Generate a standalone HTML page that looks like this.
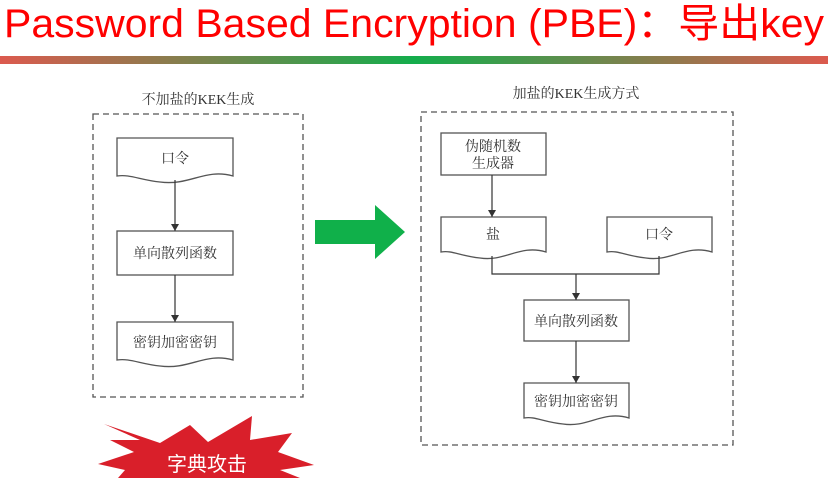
<!DOCTYPE html>
<html><head><meta charset="utf-8"><style>
html,body{margin:0;padding:0;background:#fff;width:828px;height:478px;overflow:hidden}
svg{display:block}
.t{font-family:"Liberation Serif","Noto Serif CJK SC",serif;font-size:14px;fill:#333;text-anchor:middle}
</style></head><body>
<svg width="828" height="478" viewBox="0 0 828 478">
<defs>
<linearGradient id="g" x1="0" x2="1">
<stop offset="0" stop-color="#dc5a4e"/><stop offset="0.5" stop-color="#14ad4c"/><stop offset="1" stop-color="#dc5a4e"/>
</linearGradient>
<marker id="a" markerWidth="8" markerHeight="8" refX="7" refY="4" orient="auto" markerUnits="userSpaceOnUse">
<path d="M0,0 L7,4 L0,8 Z" fill="#333"/>
</marker>
</defs>
<text x="4" y="37" font-family="Liberation Sans,'Noto Sans CJK SC',sans-serif" font-size="40" fill="#f00" textLength="820" lengthAdjust="spacingAndGlyphs">Password Based Encryption (PBE)：导出key</text>
<rect x="0" y="56" width="828" height="8" fill="url(#g)"/>
<text class="t" x="198" y="104" font-size="15">不加盐的KEK生成</text>
<text class="t" x="576" y="98" font-size="15">加盐的KEK生成方式</text>
<g fill="none" stroke="#555" stroke-width="1.3" stroke-dasharray="6,4">
<rect x="93" y="114" width="210" height="283"/>
<rect x="421" y="112" width="312" height="333"/>
</g>
<g fill="#fff" stroke="#555" stroke-width="1.3">
<path d="M117,138 H233 V176 C205,168 190,186 160,182 C140,180 130,174 117,176 Z"/>
<rect x="117" y="231" width="116" height="44"/>
<path d="M117,322 H233 V360 C205,352 190,370 160,366 C140,364 130,358 117,360 Z"/>
<rect x="441" y="133" width="105" height="42"/>
<path d="M441,217 H546 V252 C520,244 505,262 480,258 C460,256 452,250 441,252 Z"/>
<path d="M607,217 H712 V252 C686,244 671,262 646,258 C626,256 618,250 607,252 Z"/>
<rect x="524" y="300" width="105" height="41"/>
<path d="M524,383 H629 V418 C603,410 588,428 563,424 C543,422 535,416 524,418 Z"/>
</g>
<g stroke="#333" stroke-width="1.2" fill="none">
<line x1="175" y1="180" x2="175" y2="231" marker-end="url(#a)"/>
<line x1="175" y1="275" x2="175" y2="322" marker-end="url(#a)"/>
<line x1="492" y1="175" x2="492" y2="217" marker-end="url(#a)"/>
<polyline points="492,256 492,274 659,274 659,256"/>
<line x1="576" y1="274" x2="576" y2="300" marker-end="url(#a)"/>
<line x1="576" y1="341" x2="576" y2="383" marker-end="url(#a)"/>
</g>
<text class="t" x="175" y="163">口令</text>
<text class="t" x="175" y="258">单向散列函数</text>
<text class="t" x="175" y="347">密钥加密密钥</text>
<text class="t" x="493" y="151">伪随机数</text>
<text class="t" x="493" y="168">生成器</text>
<text class="t" x="493" y="239">盐</text>
<text class="t" x="659" y="239">口令</text>
<text class="t" x="576" y="326">单向散列函数</text>
<text class="t" x="576" y="406">密钥加密密钥</text>
<polygon points="315,220 375,220 375,205 405,232 375,259 375,244 315,244" fill="#10b04a"/>
<polygon points="104,424 160,443 190,425 208,442 252,416 250,440 292,433 278,452 314,465 280,470 300,478 118,478 125,470 98,464 134,452 110,440 140,440" fill="#d91f2a"/>
<text x="207" y="471" font-family="Liberation Sans,'Noto Sans CJK SC',sans-serif" font-size="20" fill="#fff" text-anchor="middle">字典攻击</text>
</svg>
</body></html>
